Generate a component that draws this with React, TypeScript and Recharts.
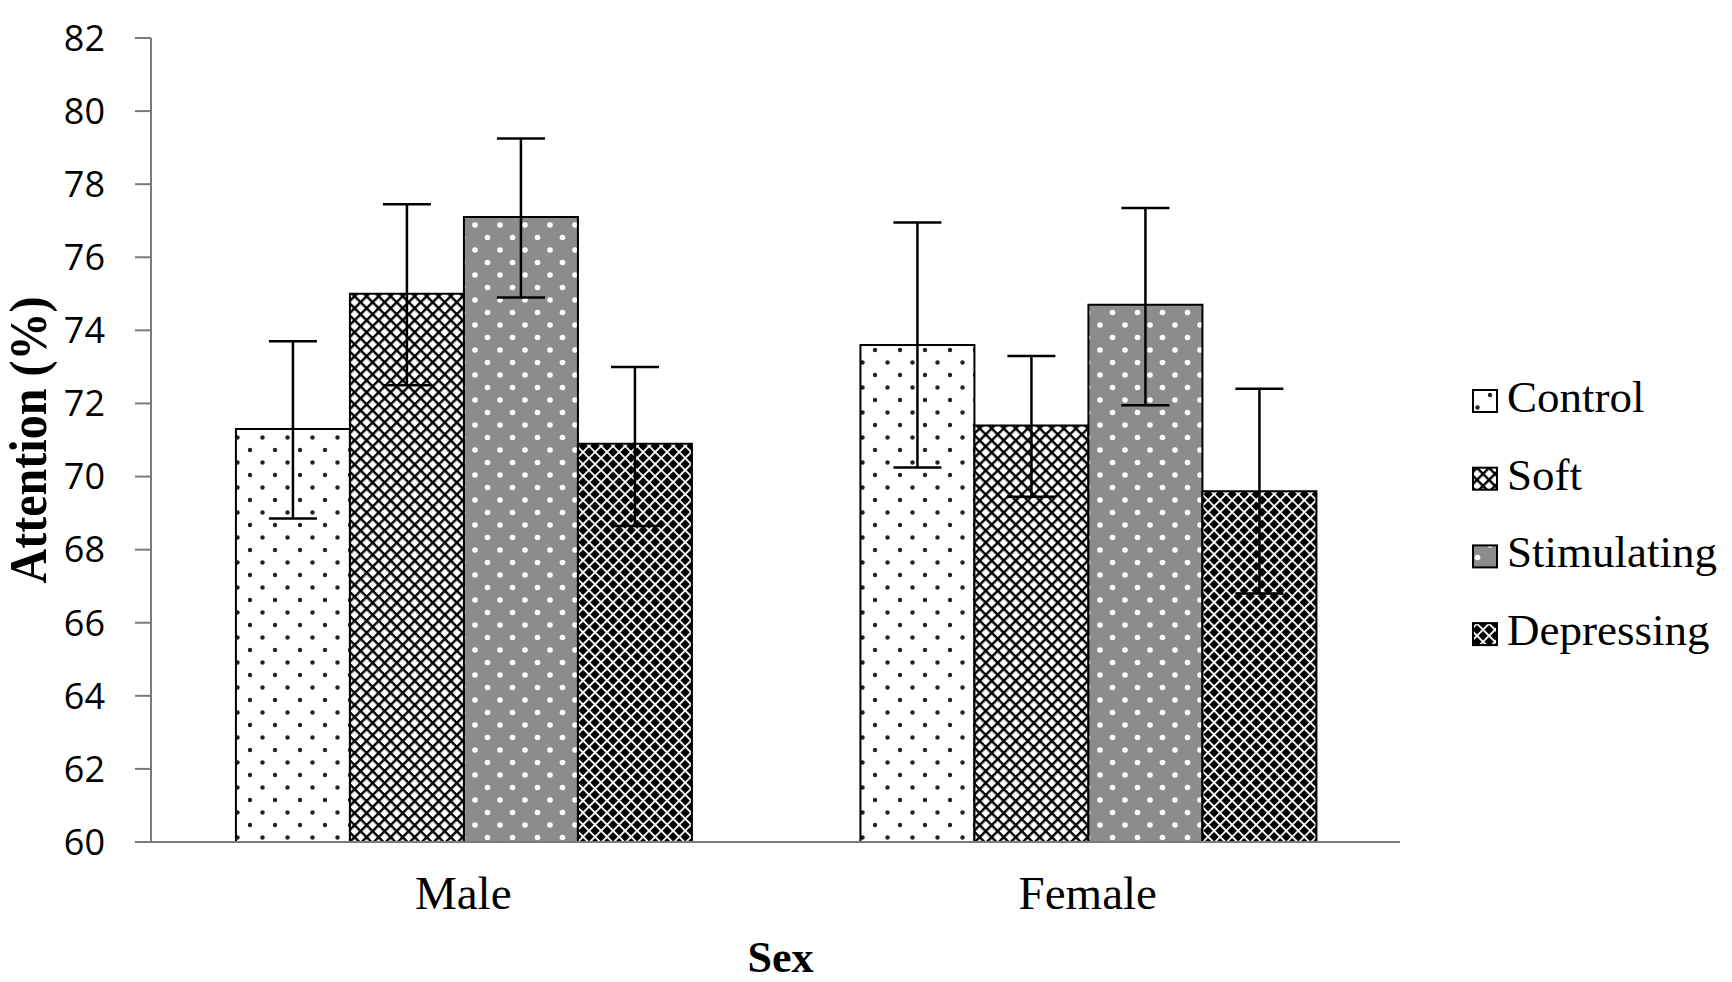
import React from 'react';
import { BarChart, Bar, XAxis, YAxis, ErrorBar, Legend } from 'recharts';

const categories = ['Male', 'Female'];
const seriesNames = ['Control', 'Soft', 'Stimulating', 'Depressing'];
const controlMeans = [71.3, 73.6];
const softMeans = [75.0, 71.4];
const stimulatingMeans = [77.1, 74.7];
const depressingMeans = [70.9, 69.6];
const controlErr = [[2.45, 2.4], [3.35, 3.35]];
const softErr = [[2.5, 2.45], [1.95, 1.9]];
const stimulatingErr = [[2.2, 2.15], [2.75, 2.65]];
const depressingErr = [[2.25, 2.1], [2.8, 2.8]];
const yTicks = [60, 62, 64, 66, 68, 70, 72, 74, 76, 78, 80, 82];

const data = categories.map((c, i) => ({
  category: c,
  Control: controlMeans[i],
  Soft: softMeans[i],
  Stimulating: stimulatingMeans[i],
  Depressing: depressingMeans[i],
  ControlErr: controlErr[i],
  SoftErr: softErr[i],
  StimulatingErr: stimulatingErr[i],
  DepressingErr: depressingErr[i],
}));

const patternIds: Record<string, string> = {
  Control: 'pControl',
  Soft: 'pSoft',
  Stimulating: 'pStim',
  Depressing: 'pDepr',
};

const AXIS = '#7a7a7a';
const SERIF = '"Liberation Serif", "Times New Roman", serif';

const XTick = (props: any) => {
  const { x, y, payload } = props;
  return (
    <text x={x} y={y} dy={67} textAnchor="middle" fill="#000" fontFamily={SERIF} fontSize={47}>
      {payload.value}
    </text>
  );
};

const YLabel = (props: any) => {
  const vb = props.viewBox || { x: 0, y: 38, width: 151, height: 804 };
  const cx = vb.x + 28;
  const cy = vb.y + vb.height / 2;
  return (
    <text
      x={cx}
      y={cy}
      transform={`rotate(-90 ${cx} ${cy})`}
      textAnchor="middle"
      dominantBaseline="central"
      fill="#000"
      fontFamily={SERIF}
      fontWeight="bold"
      fontSize={52}
      textLength={287}
      lengthAdjust="spacingAndGlyphs"
    >
      Attention (%)
    </text>
  );
};

const XLabel = (props: any) => {
  const vb = props.viewBox || { x: 151, y: 842, width: 1249, height: 140 };
  const cx = vb.x + vb.width / 2 + 5;
  return (
    <text x={cx} y={vb.y + 130} textAnchor="middle" fill="#000" fontFamily={SERIF} fontWeight="bold" fontSize={44}>
      Sex
    </text>
  );
};

const renderLegend = () => (
  <svg width={267} height={300} style={{ overflow: 'visible' }}>
    {seriesNames.map((name, i) => {
      const top = 20 + i * 77.7;
      return (
        <g key={name}>
          <rect x={8} y={top} width={24} height={22} fill={`url(#${patternIds[name]})`} stroke="#000" strokeWidth={2} />
          <text x={42} y={top + 22} fill="#000" fontFamily={SERIF} fontSize={45}>
            {name}
          </text>
        </g>
      );
    })}
  </svg>
);

export default function App() {
  return (
    <div style={{ position: 'absolute', left: 0, top: 0, width: 1732, height: 982, background: '#fff' }}>
      <BarChart
        width={1732}
        height={982}
        data={data}
        margin={{ top: 38, right: 332, bottom: 0, left: 0 }}
        barCategoryGap="13.6%"
        barGap={0}
      >
        <defs>
          <pattern id="pControl" width={25} height={25} patternUnits="userSpaceOnUse">
            <rect width={25} height={25} fill="#fff" />
            <circle cx={0} cy={0} r={2.2} fill="#222" />
            <circle cx={25} cy={0} r={2.2} fill="#222" />
            <circle cx={0} cy={25} r={2.2} fill="#222" />
            <circle cx={25} cy={25} r={2.2} fill="#222" />
            <circle cx={12.5} cy={12.5} r={2.2} fill="#222" />
          </pattern>
          <pattern id="pSoft" width={8.5} height={8.5} patternUnits="userSpaceOnUse" patternTransform="rotate(45)">
            <rect width={8.5} height={8.5} fill="#fff" />
            <rect x={0} y={0} width={8.5} height={2.4} fill="#000" />
            <rect x={0} y={0} width={2.4} height={8.5} fill="#000" />
          </pattern>
          <pattern id="pStim" width={25} height={25} patternUnits="userSpaceOnUse">
            <rect width={25} height={25} fill="#8c8c8c" />
            <circle cx={0} cy={0} r={2.8} fill="#fff" />
            <circle cx={25} cy={0} r={2.8} fill="#fff" />
            <circle cx={0} cy={25} r={2.8} fill="#fff" />
            <circle cx={25} cy={25} r={2.8} fill="#fff" />
            <circle cx={12.5} cy={12.5} r={2.8} fill="#fff" />
          </pattern>
          <pattern id="pDepr" width={8.5} height={8.5} patternUnits="userSpaceOnUse" patternTransform="rotate(45)">
            <rect width={8.5} height={8.5} fill="#000" />
            <rect x={0} y={0} width={8.5} height={1.8} fill="#fff" />
            <rect x={0} y={0} width={1.8} height={8.5} fill="#fff" />
          </pattern>
        </defs>
        <XAxis
          dataKey="category"
          height={140}
          axisLine={{ stroke: AXIS, strokeWidth: 2 }}
          tickLine={false}
          tickSize={0}
          tickMargin={0}
          tick={<XTick />}
          label={<XLabel />}
          interval={0}
        />
        <YAxis
          width={151}
          domain={[60, 82]}
          ticks={yTicks}
          interval={0}
          allowDataOverflow
          axisLine={{ stroke: AXIS, strokeWidth: 2 }}
          tickLine={{ stroke: AXIS, strokeWidth: 2 }}
          tickSize={16}
          tickMargin={30}
          tick={{ fill: '#000', fontSize: 36, fontFamily: '"Open Sans", sans-serif' }}
          label={<YLabel />}
        />
        <Legend
          layout="vertical"
          align="center"
          verticalAlign="middle"
          wrapperStyle={{ left: 1465, top: 370, width: 267, height: 300 }}
          content={renderLegend}
        />
        {seriesNames.map((name) => (
          <Bar
            key={name}
            dataKey={name}
            fill={`url(#${patternIds[name]})`}
            stroke="#000"
            strokeWidth={2}
            isAnimationActive={false}
          >
            <ErrorBar dataKey={`${name}Err`} width={24} stroke="#000" strokeWidth={2.5} direction="y" isAnimationActive={false} />
          </Bar>
        ))}
      </BarChart>
    </div>
  );
}
